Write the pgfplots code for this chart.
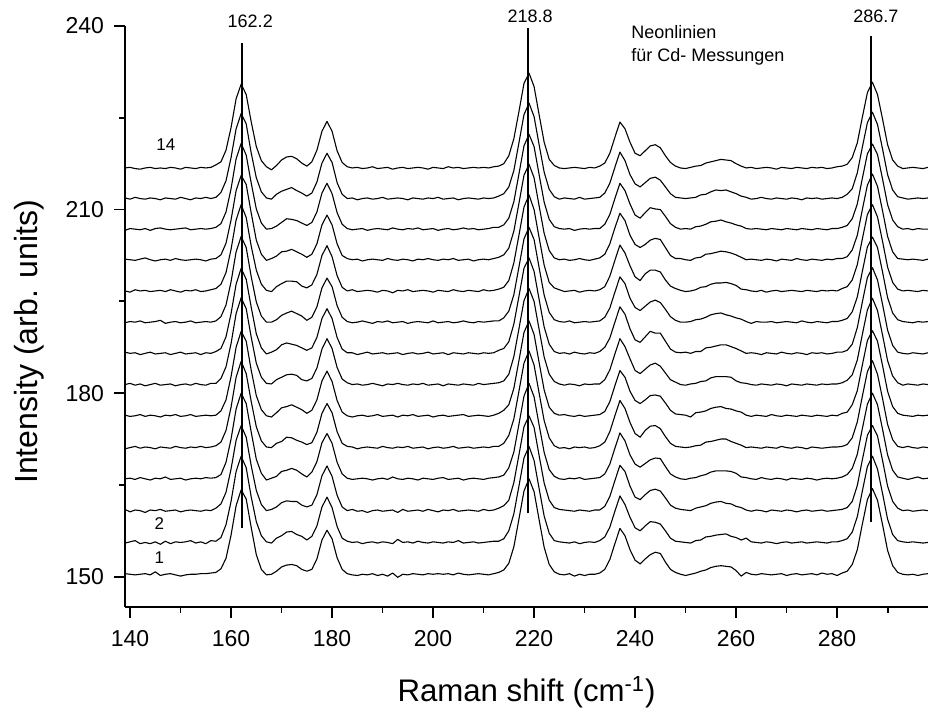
\documentclass[border=0pt]{standalone}
\usepackage{fontspec}
\setmainfont{Liberation Sans}
\usepackage{pgfplots}
\usepackage{pgfplotstable}
\pgfplotsset{compat=1.18}

% relative intensities of the 14 spectra (baseline = 0)
\pgfplotstableread{
x s1 s2 s3 s4 s5 s6 s7 s8 s9 s10 s11 s12 s13 s14
139 0.1 -0.1 0.2 0 -0.2 0.1 0 0.2 -0.1 0 0.1 -0.2 0.1 0
140 0 0.1 -0.2 0.1 0 -0.1 0.2 0 0.1 -0.2 0 0.1 -0.1 0.1
141 -0.1 0.3 0.1 -0.1 0.2 0 -0.1 0.1 0 0.2 -0.1 0 0.2 -0.1
142 0 -0.2 0 0.2 -0.1 0.2 0.1 -0.2 0.2 0 0.1 -0.1 0 -0.2
143 0.1 0 -0.3 0 0.1 -0.1 -0.2 0 -0.1 0.1 0.3 0.1 -0.1 0
144 -0.1 -0.2 0.1 -0.2 0 0.1 0 0.2 0 -0.1 0 -0.2 0.1 0.1
145 0.4 0.1 0 0.1 -0.2 0 0.2 -0.1 0.1 0 -0.2 0.1 0 -0.1
146 -0.2 -0.3 0.2 0 0.1 -0.2 -0.1 0 0.3 0.1 0 0.2 -0.2 0
147 0 0.2 -0.1 0.3 0 0.1 0 0.1 -0.2 -0.1 0.1 0 0.1 -0.1
148 0.1 -0.2 0 -0.1 -0.1 0 0.1 -0.2 0 0.2 -0.1 -0.1 0 0.1
149 -0.1 0.1 0.1 0 0.2 0.2 -0.2 0 0.1 0 0.2 0 -0.1 0
150 -0.3 0 -0.2 0.1 0 -0.1 0 0.2 -0.1 -0.2 0 0.1 0.2 -0.2
151 -0.1 0.1 0 -0.2 -0.1 0 0.1 -0.1 0 0.1 -0.1 0.2 0 0.1
152 0 0.3 0.1 0 0.1 0.2 -0.1 0 0.2 0 0 -0.1 -0.2 0
153 0 -0.1 0 0.1 0 -0.1 0.2 0.1 -0.1 0.2 0.1 0 0.1 -0.1
154 0.1 0.1 -0.1 0 0.2 0 0 -0.2 0 -0.1 0 0.1 0 0.1
155 0.1 -0.2 0.1 0.2 0 0.1 -0.1 0.1 0.1 0 -0.2 0 0.2 0
156 0.2 0.3 0 0.1 0.1 0 0.2 0 0 0.2 0.1 0.1 0 0.1
157 0.3 0.2 0.4 0.2 0.3 0.1 0.2 0.3 0.2 0.4 0.2 0.3 0.2 0.5
158 0.9 0.8 1.1 0.7 0.9 0.8 1.0 0.8 0.9 1.1 0.8 0.9 1.0 1.0
159 2.6 2.9 3.0 2.7 2.8 2.6 2.9 2.7 2.8 3.0 2.7 2.8 2.9 2.9
160 6.4 6.7 6.8 6.5 6.6 6.4 6.7 6.5 6.6 6.8 6.5 6.6 6.7 6.6
161 11.2 11.6 11.5 11.4 11.5 11.2 11.6 11.3 11.5 11.6 11.3 11.5 11.4 11.3
162 13.8 14.1 13.9 14.0 14.1 13.8 14.2 13.9 14.0 14.1 13.8 14.0 13.9 13.7
163 12.3 12.2 12.0 12.3 12.1 12.2 12.4 12.1 12.2 12.0 12.3 12.1 12.2 12.0
164 7.6 7.4 7.3 7.6 7.5 7.4 7.7 7.5 7.4 7.3 7.6 7.5 7.4 7.5
165 3.2 3.4 3.3 3.2 3.4 3.3 3.5 3.2 3.3 3.4 3.2 3.3 3.4 3.5
166 0.8 1.1 1.0 0.9 1.1 1.0 1.2 0.9 1.0 1.1 0.9 1.0 1.1 1.2
167 -0.1 0.1 0 -0.2 0.1 0 0.2 -0.1 0 0.1 -0.1 0 0.1 0.2
168 0 -0.1 0.2 0.1 0 -0.2 0.1 0.2 0 -0.1 0.2 0.1 -0.1 -0.3
169 0.5 0.7 0.6 0.4 0.7 0.5 0.8 0.6 0.4 0.7 0.6 0.5 0.7 0.4
170 1.2 1.1 1.3 1.2 1.0 1.3 1.2 1.4 1.1 1.2 1.3 1.1 1.2 1.3
171 1.5 1.7 1.6 1.4 1.7 1.5 1.6 1.7 1.5 1.6 1.4 1.7 1.5 1.8
172 1.6 1.8 1.5 1.7 1.6 1.8 1.7 1.5 1.8 1.6 1.7 1.6 1.8 1.9
173 1.4 1.3 1.5 1.4 1.2 1.4 1.5 1.3 1.4 1.5 1.3 1.4 1.3 1.5
174 0.8 1.0 0.9 0.8 0.9 1.0 0.8 0.9 1.0 0.8 0.9 1.0 0.9 0.8
175 0.5 0.4 0.6 0.3 0.5 0.4 0.6 0.5 0.3 0.5 0.4 0.6 0.4 0.3
176 0.8 1.0 0.9 1.1 0.8 0.9 1.0 0.9 0.8 1.0 0.9 1.1 0.9 1.0
177 2.5 2.7 2.6 2.8 2.5 2.6 2.7 2.6 2.5 2.7 2.6 2.8 2.7 2.9
178 5.6 5.8 5.7 5.9 5.6 5.7 5.8 5.7 5.6 5.8 5.7 5.9 5.8 6.0
179 7.2 7.4 7.3 7.4 7.2 7.3 7.5 7.3 7.2 7.4 7.3 7.5 7.4 7.6
180 5.8 5.7 5.6 5.8 5.7 5.6 5.9 5.7 5.8 5.6 5.7 5.8 5.9 6.0
181 2.7 2.6 2.5 2.7 2.6 2.5 2.8 2.6 2.7 2.5 2.6 2.7 2.6 2.8
182 0.8 0.7 0.6 0.8 0.7 0.6 0.9 0.7 0.8 0.6 0.7 0.8 0.7 0.9
183 0.1 0.2 0 0.1 0.2 0 0.3 0.1 0.1 0 0.2 0.1 0 0.2
184 -0.1 0 0.2 -0.1 0.1 -0.2 0 0.1 -0.1 0.2 0 -0.1 0.1 0
185 -0.2 0.1 -0.1 0 -0.2 0 0.1 -0.2 0 -0.1 0.1 0 -0.2 0.1
186 0 -0.2 0 0.1 0 0.1 -0.1 0 0.2 0 -0.2 0.1 0 -0.1
187 -0.1 0 -0.3 0 0.1 -0.1 0 0.2 0 0.1 0 -0.2 0.1 0
188 0.1 0.1 0 -0.2 0 0 0.2 -0.1 -0.2 0 0.1 0 -0.1 0.2
189 -0.2 -0.1 0.1 0 -0.1 0.2 0 0 0.1 -0.2 0 0.1 0 -0.1
190 0 0.1 -0.1 0.1 0.2 -0.1 -0.2 0.1 0 0.1 -0.1 0 0.2 0
191 -0.3 0 0 -0.1 0 0 0.1 -0.1 0.2 0 0.2 -0.1 -0.1 0.1
192 0.2 -0.2 0.1 0.3 -0.1 0.1 0 0 -0.1 -0.3 0 0.2 0 -0.2
193 -0.5 0.5 -0.3 0 0.1 -0.2 0.2 0.1 0 0.1 -0.1 0 0.1 0
194 0 0 0.2 -0.1 0 0.1 0 -0.2 0.1 0 0.1 -0.1 0 0.1
195 -0.1 0.1 -0.1 0.1 0.2 0 -0.1 0 -0.2 0.2 0 0.1 -0.2 -0.1
196 0.1 -0.1 0 0 -0.1 0.2 0.1 0.1 0 -0.1 -0.2 0 0.1 0
197 0 0.2 0.1 -0.2 0 -0.1 0 -0.1 0.1 0 0.1 0.2 0 0.1
198 -0.1 0 -0.1 0.1 0.1 0 0.2 0 0 0.1 0 -0.1 -0.1 0
199 0.1 -0.1 0.2 0 -0.2 0.1 -0.1 0.2 -0.1 0 0.2 0 0.1 -0.2
200 0 0.1 0 -0.1 0 -0.2 0 -0.1 0.2 -0.2 0 0.1 0 0.1
201 0.1 0 -0.2 0.1 0.1 0 0.1 0 -0.1 0.1 -0.1 -0.2 0.2 0
202 0 -0.1 0.1 0.2 -0.1 0.1 -0.2 0.1 0 0 0.1 0 -0.1 -0.1
203 0.1 0.1 0 -0.1 0 -0.1 0.1 -0.2 0.1 -0.1 0 0.1 0 0.2
204 -0.1 0 0.2 0 0.2 0 0 0.1 -0.1 0.2 0.2 -0.1 0.1 0
205 0.2 0.3 -0.1 0.1 -0.1 0.1 -0.1 0 0 0 -0.1 0 -0.2 0.1
206 0 -0.1 0 -0.2 0 0.2 0.1 -0.1 0.2 -0.1 0 0.2 0 -0.1
207 -0.1 0 0.1 0 0.1 -0.1 0 0.1 0 0.1 0.1 0 0.1 0
208 0 0.1 0 0.1 -0.1 0 -0.1 0 -0.1 0 -0.2 0.1 0 0.1
209 0.1 -0.1 -0.1 0 0 0.1 0.2 -0.1 0.1 -0.1 0 -0.1 -0.1 0
210 0 0 0.2 -0.1 0.1 0 0 0.1 0 0.2 0.1 0 0.1 0.1
211 -0.1 0.1 0 0.1 0 -0.1 0.1 0 0.1 0 0 0.1 0 0
212 0.1 0.2 0.1 0.2 0.2 0.1 0.2 0.1 0.2 0.1 0.2 0.3 0.1 0.2
213 0.3 0.2 0.4 0.3 0.2 0.4 0.3 0.5 0.2 0.3 0.4 0.3 0.4 0.3
214 0.7 0.6 0.8 0.6 0.7 0.9 0.6 0.8 0.7 0.6 0.8 0.7 0.8 0.7
215 1.8 1.9 1.7 1.8 2.0 1.8 1.7 1.9 1.8 1.7 1.9 1.8 1.9 2.0
216 4.5 4.7 4.6 4.4 4.7 4.5 4.6 4.8 4.5 4.6 4.7 4.5 4.6 4.8
217 9.0 9.2 9.1 8.9 9.2 9.0 9.1 9.3 9.0 9.1 9.2 9.0 9.1 9.2
218 13.6 13.8 13.7 13.5 13.8 13.6 13.7 13.9 13.6 13.7 13.8 13.6 13.7 13.8
219 15.6 15.7 15.5 15.6 15.8 15.5 15.7 15.6 15.5 15.7 15.6 15.5 15.6 15.5
220 13.5 13.4 13.6 13.4 13.5 13.3 13.6 13.4 13.5 13.3 13.4 13.5 13.4 13.3
221 8.9 8.8 9.0 8.8 8.9 8.7 9.0 8.8 8.9 8.7 8.8 8.9 8.8 8.7
222 4.4 4.3 4.5 4.3 4.4 4.2 4.5 4.3 4.4 4.2 4.3 4.4 4.3 4.2
223 1.6 1.5 1.7 1.5 1.6 1.4 1.7 1.5 1.6 1.4 1.5 1.6 1.5 1.4
224 0.4 0.3 0.5 0.4 0.3 0.4 0.5 0.3 0.4 0.5 0.3 0.4 0.3 0.4
225 0 0.1 0.2 0 -0.1 0.1 0.1 0 0.1 0.2 0 0.1 -0.1 0
226 -0.1 0 0.1 -0.1 0 0.2 -0.1 0.1 0 -0.1 0.1 0 0.1 -0.1
227 0.1 -0.1 0 0.1 -0.2 0 0.1 -0.1 0.2 0 -0.1 0.1 0 0
228 -0.3 0.1 -0.1 0 0.1 -0.1 0 0.2 -0.1 0.1 0 -0.2 -0.1 0.1
229 0 -0.2 0.1 0.2 0 0.1 -0.2 0 0 -0.2 0.2 0 0.2 0
230 -0.2 0 0 -0.1 0.1 -0.1 0.1 -0.1 0.1 0 0 0.1 -0.1 -0.1
231 0 0.1 -0.1 0 -0.1 0 0 0.1 0 0.1 -0.1 0 0 0.1
232 0 0 0.1 0.1 0 0.1 0.1 0 0.1 0 0.1 0.1 0.1 0
233 0.2 0.3 0.1 0.2 0.3 0.2 0.1 0.3 0.2 0.2 0.3 0.1 0.2 0.3
234 0.8 0.9 0.7 0.8 0.9 0.7 0.8 1.0 0.8 0.7 0.9 0.8 0.9 0.8
235 2.4 2.5 2.3 2.4 2.6 2.3 2.4 2.5 2.3 2.4 2.6 2.4 2.5 2.4
236 5.0 5.1 4.9 5.0 5.2 4.9 5.0 5.1 4.9 5.0 5.2 5.0 5.1 5.0
237 7.5 7.6 7.4 7.5 7.7 7.4 7.5 7.6 7.4 7.5 7.6 7.5 7.6 7.5
238 6.3 6.2 6.4 6.2 6.4 6.3 6.2 6.4 6.3 6.2 6.4 6.3 6.2 6.4
239 4.0 4.1 4.0 3.9 4.1 4.0 4.2 4.0 3.9 4.1 4.0 4.1 3.9 4.2
240 2.3 2.4 2.2 2.4 2.3 2.5 2.3 2.2 2.4 2.3 2.5 2.3 2.4 2.4
241 1.7 1.9 1.8 1.9 1.7 2.0 1.8 1.8 1.9 1.7 2.0 1.8 1.9 2.0
242 2.5 2.7 2.6 2.5 2.8 2.6 2.5 2.7 2.6 2.8 2.5 2.7 2.6 2.8
243 3.2 3.4 3.3 3.1 3.5 3.3 3.2 3.6 3.3 3.4 3.2 3.5 3.3 3.6
244 3.6 3.3 3.5 3.4 3.6 3.4 3.5 3.3 3.6 3.4 3.5 3.3 3.5 3.8
245 3.4 3.0 3.2 3.3 3.1 3.2 3.0 3.3 3.2 3.1 3.3 3.2 3.0 3.3
246 2.0 1.9 2.1 2.0 1.8 2.1 1.9 2.0 2.1 1.8 2.0 2.1 1.9 2.0
247 0.8 0.7 0.9 0.8 0.7 0.9 0.8 0.7 0.9 0.8 0.7 0.9 0.8 0.9
248 0.3 0.2 0.4 0.3 0.2 0.3 0.4 0.2 0.3 0.4 0.2 0.3 0.2 0.3
249 0 0.1 0.2 0 0.1 0.2 0 0.1 0 0.1 0.2 0 0.1 0
250 -0.2 0 0.1 -0.1 0 0.1 -0.1 0.2 0 -0.1 0 0.1 0 -0.1
251 0 -0.1 0 0.1 0.1 -0.2 0.1 0 0.1 0 -0.1 0 0.1 0.1
252 0.2 0.3 0.4 0.2 0.3 0.5 0.2 0.3 0.4 0.2 0.3 0.4 0.2 0.3
253 0.5 0.4 0.6 0.5 0.4 0.6 0.5 0.3 0.5 0.6 0.4 0.5 0.6 0.4
254 0.7 0.9 0.8 0.7 0.9 0.8 0.6 0.9 0.8 0.7 0.9 0.8 0.7 0.8
255 1.1 1.0 1.2 1.1 1.0 1.2 1.1 1.0 1.2 1.1 1.0 1.2 1.1 1.0
256 1.3 1.2 1.4 1.3 1.2 1.4 1.3 1.2 1.4 1.3 1.2 1.3 1.4 1.2
257 1.4 1.3 1.5 1.3 1.4 1.5 1.3 1.4 1.5 1.3 1.4 1.5 1.3 1.4
258 1.3 1.4 1.2 1.3 1.4 1.2 1.3 1.4 1.2 1.4 1.3 1.2 1.4 1.3
259 1.2 1.0 1.1 1.2 1.0 1.1 1.2 1.1 1.0 1.2 1.1 1.0 1.1 1.2
260 0.6 0.8 0.7 0.9 0.7 0.8 0.6 0.8 0.7 0.9 0.8 0.7 0.8 0.7
261 -0.3 0.4 0.5 0.3 0.4 0.6 0.3 0.4 0.5 0.3 0.4 0.5 0.4 0.3
262 0.3 0.7 0.1 0.2 0 0.1 0.2 0 0.1 0.2 0 0.1 0.2 0
263 0 0.1 -0.1 0 0.1 -0.1 0 0.1 -0.2 0 0.1 0 -0.1 0.1
264 -0.1 0 0.1 -0.1 0 0.1 -0.1 0 0.1 -0.1 0 0.1 0 -0.1
265 0.1 -0.1 0 0.2 -0.1 0 0.1 -0.2 0 0.1 -0.1 0 0.2 0
266 0 0.1 -0.2 0 0.1 -0.1 0 0.1 0 -0.2 0.1 -0.1 0 0.1
267 -0.1 0 0.1 -0.1 0 0.2 -0.1 0 0.1 0 0 0.1 -0.1 0
268 0 -0.2 0 0.1 -0.1 0 0.1 -0.1 -0.1 0.1 -0.2 0 0.1 -0.2
269 0.1 0 -0.1 0 0.2 -0.1 0 0.2 0 -0.1 0.1 -0.1 0 0.1
270 -0.2 0.1 0.1 -0.2 0 0.1 -0.2 0 0.1 0 0 0.1 -0.1 0
271 0 -0.1 0 0.1 -0.1 0 0.1 -0.1 0 0.1 -0.1 0 0.1 -0.1
272 0.1 0 -0.2 0 0.1 -0.1 0 0.1 -0.1 0 0.2 -0.1 0 0.1
273 -0.1 0.1 0 -0.1 0 0.1 -0.1 0 0.2 -0.1 0 0.1 -0.2 0
274 0 -0.1 0.1 0.1 -0.2 0 0.1 -0.2 0 0.1 -0.1 0 0.1 -0.1
275 0.1 0 -0.1 0 0.1 -0.1 0 0.1 -0.1 0 0.1 -0.1 0 0.1
276 -0.1 0.1 0 -0.2 0 0.1 -0.1 0 0.1 -0.1 0 0.1 0.1 0
277 0.2 0 0.1 0 -0.1 0 0.1 0.1 0 0.1 -0.1 0 -0.1 0.1
278 0 -0.1 -0.1 0.1 0 -0.1 0 -0.1 -0.1 0 0.1 -0.1 0 -0.1
279 0.1 0.1 0 0 0.1 0.1 0.1 0 0.1 0.1 0 0.1 0.1 0
280 -0.2 0.1 0.1 0.1 0.1 0 0.1 0.2 0.1 0 0.2 0.1 0 0.2
281 0.2 0.3 0.2 0.3 0.2 0.4 0.3 0.2 0.3 0.4 0.2 0.3 0.2 0.3
282 0.5 0.6 0.5 0.7 0.5 0.6 0.7 0.5 0.6 0.7 0.5 0.6 0.7 0.6
283 1.6 1.7 1.5 1.7 1.6 1.8 1.6 1.5 1.7 1.8 1.6 1.7 1.6 1.7
284 4.0 4.2 4.1 4.0 4.2 4.1 4.0 4.2 4.1 4.3 4.0 4.1 4.2 4.1
285 8.2 8.4 8.3 8.2 8.4 8.3 8.2 8.4 8.3 8.5 8.2 8.3 8.4 8.3
286 12.2 12.4 12.3 12.2 12.4 12.3 12.2 12.4 12.3 12.5 12.2 12.3 12.4 12.3
287 14.0 14.1 13.9 14.0 14.2 13.9 14.1 14.0 13.9 14.1 14.0 13.9 14.1 14.0
288 12.1 12.0 12.2 12.1 12.0 12.2 12.1 12.0 12.2 12.1 12.0 12.2 12.1 12.0
289 8.1 8.0 8.2 8.1 8.0 8.2 8.1 8.0 8.2 8.1 8.0 8.2 8.1 8.0
290 3.9 3.8 4.0 3.9 3.8 4.0 3.9 3.8 4.0 3.9 3.8 4.0 3.9 3.8
291 1.4 1.3 1.5 1.4 1.3 1.5 1.4 1.3 1.5 1.4 1.3 1.5 1.4 1.3
292 0.3 0.3 0.4 0.3 0.2 0.4 0.3 0.2 0.4 0.3 0.2 0.4 0.3 0.3
293 0 0.1 0 0.1 0 0.1 -0.1 0 0.1 0 0.1 0 0.1 -0.1
294 -0.1 0 0.1 -0.1 0.2 0 0.1 -0.1 0 0.1 0 0.1 -0.1 0
295 0 0.1 -0.1 0.1 0 -0.1 0 0.1 -0.1 0 0.1 -0.1 0 0.1
296 -0.2 0 0 0.3 -0.1 0.1 -0.1 0 0.1 -0.1 0 0.1 0.1 0
297 0 -0.1 0.1 0 0.1 0 0.1 -0.1 0 0.1 -0.1 0 0 -0.1
298 0.1 0 0 0.1 0 0.1 0 0.1 0.1 0 0.1 0 0.1 0.1
}\spectra

\begin{document}
\begin{tikzpicture}
\useasboundingbox (-62.5pt,-53.15pt) rectangle (401.5pt,303.35pt);
\begin{axis}[
  at={(0pt,0pt)}, anchor=south west,
  scale only axis, width=401.5pt, height=290.35pt,
  xmin=139, xmax=298, ymin=145.1, ymax=240,
  clip=false,
  axis x line*=bottom, axis y line*=left,
  axis line style={line width=1pt, -},
  xtick={140,160,...,280}, minor xtick={150,170,...,290},
  ytick={150,180,210,240}, minor ytick={165,195,225},
  tick align=outside,
  major tick length=5.5pt, minor tick length=3pt,
  every tick/.style={black, line width=0.9pt},
  /pgf/number format/assume math mode=true,
  tick label style={font=\fontsize{11.5}{13}\selectfont},
  xticklabel style={yshift=-3pt},
  yticklabel style={xshift=-1.5pt},
  every axis x label/.style={at={(axis description cs:0.5,-0.1641)}, anchor=base, font=\fontsize{15.6}{18}\selectfont},
  every axis y label/.style={at={(axis description cs:-0.1196,0.456)}, rotate=90, anchor=center, font=\fontsize{16}{19}\selectfont},
  xlabel={Raman shift (cm\textsuperscript{-1})},
  ylabel={Intensity (arb. units)},
]
\addplot[black, line width=0.55pt, line join=round] table[x=x, y expr=\thisrow{s1}+150.4] {\spectra};
\addplot[black, line width=0.55pt, line join=round] table[x=x, y expr=\thisrow{s2}+155.6] {\spectra};
\addplot[black, line width=0.55pt, line join=round] table[x=x, y expr=\thisrow{s3}+160.8] {\spectra};
\addplot[black, line width=0.55pt, line join=round] table[x=x, y expr=\thisrow{s4}+166.0] {\spectra};
\addplot[black, line width=0.55pt, line join=round] table[x=x, y expr=\thisrow{s5}+171.1] {\spectra};
\addplot[black, line width=0.55pt, line join=round] table[x=x, y expr=\thisrow{s6}+176.3] {\spectra};
\addplot[black, line width=0.55pt, line join=round] table[x=x, y expr=\thisrow{s7}+181.4] {\spectra};
\addplot[black, line width=0.55pt, line join=round] table[x=x, y expr=\thisrow{s8}+186.5] {\spectra};
\addplot[black, line width=0.55pt, line join=round] table[x=x, y expr=\thisrow{s9}+191.6] {\spectra};
\addplot[black, line width=0.55pt, line join=round] table[x=x, y expr=\thisrow{s10}+196.7] {\spectra};
\addplot[black, line width=0.55pt, line join=round] table[x=x, y expr=\thisrow{s11}+201.8] {\spectra};
\addplot[black, line width=0.55pt, line join=round] table[x=x, y expr=\thisrow{s12}+206.8] {\spectra};
\addplot[black, line width=0.55pt, line join=round] table[x=x, y expr=\thisrow{s13}+211.8] {\spectra};
\addplot[black, line width=0.55pt, line join=round] table[x=x, y expr=\thisrow{s14}+216.8] {\spectra};
% neon line markers
\addplot[black, line width=1pt] coordinates {(162.2,158.0) (162.2,237.2)};
\addplot[black, line width=1pt] coordinates {(218.8,160.4) (218.8,239.7)};
\addplot[black, line width=1pt] coordinates {(286.7,159.0) (286.7,238.4)};
\node[anchor=base, font=\fontsize{9}{11}\selectfont] at (axis cs:163.8,239.7) {162.2};
\node[anchor=base, font=\fontsize{9}{11}\selectfont] at (axis cs:219.2,240.5) {218.8};
\node[anchor=base, font=\fontsize{9}{11}\selectfont] at (axis cs:287.7,240.5) {286.7};
\node[anchor=base west, inner sep=0pt, font=\fontsize{9}{11}\selectfont] at (axis cs:239.2,237.9) {Neonlinien};
\node[anchor=base west, inner sep=0pt, font=\fontsize{9}{11}\selectfont] at (axis cs:239.2,234.2) {für Cd- Messungen};
\node[anchor=base, font=\fontsize{8.5}{10}\selectfont] at (axis cs:147.1,219.7) {14};
\node[anchor=base, font=\fontsize{8.5}{10}\selectfont] at (axis cs:145.8,157.7) {2};
\node[anchor=base, font=\fontsize{8.5}{10}\selectfont] at (axis cs:145.8,152.1) {1};
\end{axis}
\end{tikzpicture}
\end{document}
